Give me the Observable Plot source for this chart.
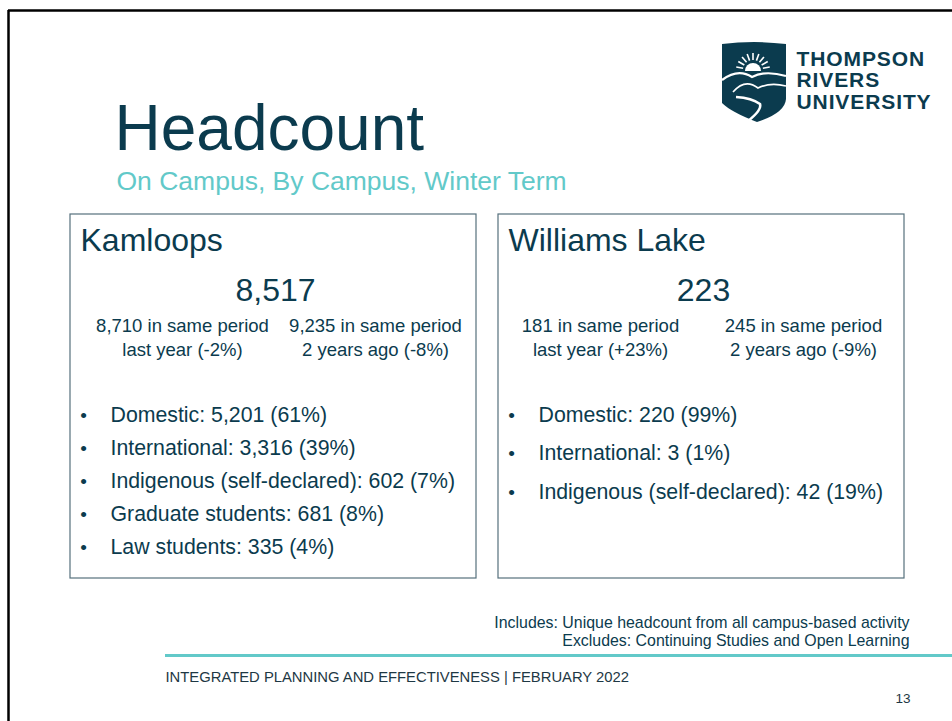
<!DOCTYPE html>
<html>
<head>
<meta charset="utf-8">
<script src="https://cdn.jsdelivr.net/npm/d3@7"></script>
<script src="https://cdn.jsdelivr.net/npm/@observablehq/plot@0.6"></script>
<style>
  html, body { margin: 0; padding: 0; background: #ffffff; }
  #chart svg { display: block; }
</style>
</head>
<body>
<div id="chart"></div>
<script>
// ---------- data ----------
const title = "Headcount";
const subtitle = "On Campus, By Campus, Winter Term";
const logoLines = ["THOMPSON", "RIVERS", "UNIVERSITY"];
const campuses = ["Kamloops", "Williams Lake"];
const totals = [8517, 223];
const lastYear = [8710, 181];
const lastYearChange = ["-2%", "+23%"];
const twoYearsAgo = [9235, 245];
const twoYearsAgoChange = ["-8%", "-9%"];
const kamloopsItems = [
  "Domestic: 5,201 (61%)",
  "International: 3,316 (39%)",
  "Indigenous (self-declared): 602 (7%)",
  "Graduate students: 681 (8%)",
  "Law students: 335 (4%)"
];
const williamsLakeItems = [
  "Domestic: 220 (99%)",
  "International: 3 (1%)",
  "Indigenous (self-declared): 42 (19%)"
];
const notes = [
  "Includes: Unique headcount from all campus-based activity",
  "Excludes: Continuing Studies and Open Learning"
];
const footer = "INTEGRATED PLANNING AND EFFECTIVENESS | FEBRUARY 2022";
const pageNumber = "13";

// ---------- layout (slide pixel frame) ----------
const W = 952, H = 721;
const dark = "#0b3b4e";
const teal = "#62c9c9";
const boxStroke = "#55707c";
const font = "'Liberation Sans', Arial, sans-serif";
const fmt = d3.format(",");

const panels = campuses.map((name, i) => ({
  name,
  x1: i === 0 ? 70 : 498,
  x2: i === 0 ? 476 : 904,
  y1: 214,
  y2: 578,
  total: fmt(totals[i]),
  c1: `${fmt(lastYear[i])} in same period\nlast year (${lastYearChange[i]})`,
  c2: `${fmt(twoYearsAgo[i])} in same period\n2 years ago (${twoYearsAgoChange[i]})`,
  col1: i === 0 ? 182 : 600,
  col2: i === 0 ? 375 : 803,
  items: i === 0 ? kamloopsItems : williamsLakeItems,
  itemStep: i === 0 ? 33 : 38.5
}));

const bulletRows = panels.flatMap(p =>
  p.items.map((t, j) => ({text: t, x: p.x1 + 40, bx: p.x1 + 13, y: 421 + j * p.itemStep}))
);

const logoMark = () => {
  const g = d3.create("svg:g");
  g.append("path")
    .attr("d", "M722,44 Q754,40 786,44 L786,99 Q785,113 757,122 Q731,112 722,103 Z")
    .attr("fill", dark);
  // sun
  g.append("path").attr("d", "M745,71 A8,8 0 0 1 761,71 Z").attr("fill", "#fff");
  const rays = d3.range(9).map(k => Math.PI + (k + 0.5) * Math.PI / 9);
  g.selectAll("line.ray").data(rays).join("line")
    .attr("x1", a => 753 + 10 * Math.cos(a)).attr("y1", a => 70 + 10 * Math.sin(a))
    .attr("x2", a => 753 + 17 * Math.cos(a)).attr("y2", a => 70 + 17 * Math.sin(a))
    .attr("stroke", "#fff").attr("stroke-width", 1.6);
  // mountains
  g.append("path")
    .attr("d", "M722,80 Q738,68 752,77 Q765,70 786,76")
    .attr("fill", "none").attr("stroke", "#fff").attr("stroke-width", 2.2);
  g.append("path")
    .attr("d", "M733,92 Q745,78 758,88 Q770,82 786,86")
    .attr("fill", "none").attr("stroke", "#fff").attr("stroke-width", 1.6);
  // river
  g.append("path")
    .attr("d", "M736,97 Q752,98 760,104 Q762,110 748,121")
    .attr("fill", "none").attr("stroke", "#fff").attr("stroke-width", 2.6);
  return g.node();
};

const chart = Plot.plot({
  width: W,
  height: H,
  margin: 0,
  style: {background: "#ffffff", fontFamily: font, overflow: "visible"},
  x: {type: "identity", axis: null},
  y: {type: "identity", axis: null},
  marks: [
    // slide frame lines
    Plot.ruleY([10], {x1: 8, x2: W, stroke: "#000", strokeWidth: 2.5}),
    Plot.ruleX([8], {y1: 10, y2: H, stroke: "#000", strokeWidth: 2.5}),
    // logo
    logoMark,
    Plot.text([logoLines.join("\n")], {
      x: 796, y: 108, text: d => d,
      textAnchor: "start", lineAnchor: "bottom", fontSize: 21, lineHeight: 1.02, fontWeight: "bold",
      fill: dark, fontFamily: font
    }),
    // title + subtitle
    Plot.text([title], {x: 114, y: 149, text: d => d, textAnchor: "start", lineAnchor: "bottom",
      fontSize: 64, fill: dark, fontFamily: font}),
    Plot.text([subtitle], {x: 116, y: 189, text: d => d, textAnchor: "start", lineAnchor: "bottom",
      fontSize: 26.5, fill: teal, fontFamily: font}),
    // panels
    Plot.rect(panels, {x1: "x1", x2: "x2", y1: "y1", y2: "y2", fill: "none", stroke: boxStroke, strokeWidth: 1.2}),
    Plot.text(panels, {x: d => d.x1 + 10, y: 250, text: "name", textAnchor: "start", lineAnchor: "bottom",
      fontSize: 32, fill: dark, fontFamily: font}),
    Plot.text(panels, {x: d => (d.x1 + d.x2) / 2 + 2, y: 300, text: "total", textAnchor: "middle", lineAnchor: "bottom",
      fontSize: 32, fill: dark, fontFamily: font}),
    Plot.text(panels, {x: "col1", y: 355, text: "c1", textAnchor: "middle", lineAnchor: "bottom",
      fontSize: 18.5, lineHeight: 1.25, fill: dark, fontFamily: font}),
    Plot.text(panels, {x: "col2", y: 355, text: "c2", textAnchor: "middle", lineAnchor: "bottom",
      fontSize: 18.5, lineHeight: 1.25, fill: dark, fontFamily: font}),
    // bullets
    Plot.text(bulletRows, {x: "bx", y: "y", text: () => "•", textAnchor: "middle", lineAnchor: "bottom",
      fontSize: 19, fill: dark, fontFamily: font}),
    Plot.text(bulletRows, {x: "x", y: "y", text: "text", textAnchor: "start", lineAnchor: "bottom",
      fontSize: 21.3, fill: dark, fontFamily: font}),
    // notes
    Plot.text(notes, {x: 909, y: (d, i) => 627 + i * 18, text: d => d, textAnchor: "end", lineAnchor: "bottom",
      fontSize: 15.9, fill: dark, fontFamily: font}),
    Plot.ruleY([655], {x1: 165, x2: W, stroke: teal, strokeWidth: 3}),
    Plot.text([footer], {x: 165, y: 681, text: d => d, textAnchor: "start", lineAnchor: "bottom",
      fontSize: 14.8, fill: "#1e3844", fontFamily: font}),
    Plot.text([pageNumber], {x: 910, y: 702, text: d => d, textAnchor: "end", lineAnchor: "bottom",
      fontSize: 13.5, fill: "#1e3844", fontFamily: font})
  ]
});

// widen the logo wordmark slightly to match its letter spacing
d3.select(chart).selectAll("text")
  .filter(function() { return this.textContent.includes("THOMPSON"); })
  .style("letter-spacing", "0.9px");

document.getElementById("chart").append(chart);
</script>
</body>
</html>
